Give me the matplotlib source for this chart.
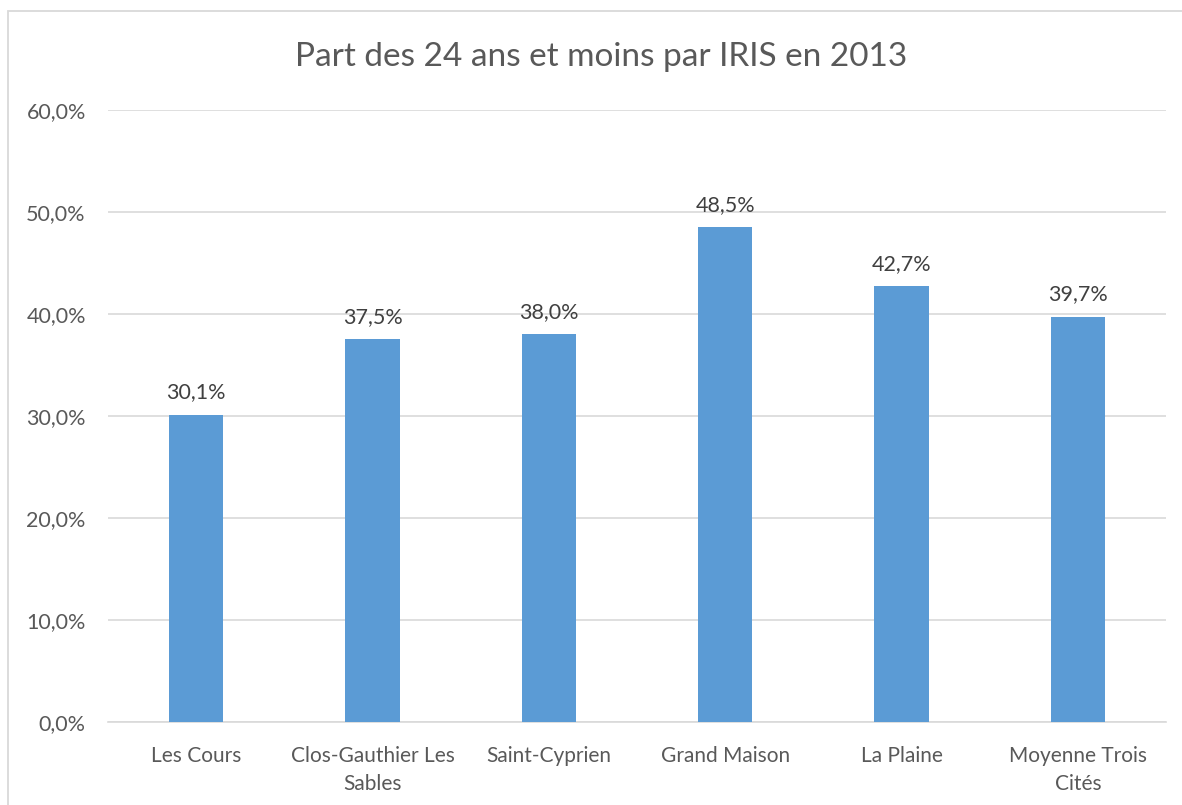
import matplotlib
matplotlib.use("Agg")
import matplotlib.pyplot as plt
from matplotlib.patches import Rectangle
from matplotlib.ticker import FuncFormatter, MultipleLocator

categories = ["Les Cours", "Clos-Gauthier Les\nSables", "Saint-Cyprien",
              "Grand Maison", "La Plaine", "Moyenne Trois\nCités"]
values = [30.1, 37.5, 38.0, 48.5, 42.7, 39.7]
title = "Part des 24 ans et moins par IRIS en 2013"

plt.rcParams['font.family'] = ['Lato', 'DejaVu Sans']

W, H = 1182, 805
fig = plt.figure(figsize=(W / 100, H / 100), dpi=100)
fig.patch.set_facecolor('white')

# outer chart border
fig.add_artist(Rectangle((8 / W, -0.01), 1.2, 1 - 11 / H + 0.01, transform=fig.transFigure,
                         fill=False, edgecolor='#D9D9D9', linewidth=1.3))

left, right = 108 / W, 1166 / W
bottom, top = 1 - 722 / H, 1 - 110 / H
ax = fig.add_axes([left, bottom, right - left, top - bottom])

x = range(len(categories))
ax.bar(x, values, width=0.31, color='#5B9BD5', zorder=3)
ax.set_xlim(-0.5, len(categories) - 0.5)
ax.set_ylim(0, 60)
ax.yaxis.set_major_locator(MultipleLocator(10))
ax.yaxis.set_major_formatter(FuncFormatter(lambda v, p: f"{v:.1f}%".replace('.', ',')))
ax.grid(axis='y', color='#D9D9D9', linewidth=1.2, zorder=0)
for s in ['top', 'right', 'left']:
    ax.spines[s].set_visible(False)
ax.spines['bottom'].set_color('#D9D9D9')
ax.spines['bottom'].set_linewidth(1.2)
ax.set_xticks(list(x))
ax.set_xticklabels(categories, fontsize=15, color='#595959', linespacing=1.55)
ax.tick_params(axis='both', length=0, labelcolor='#595959')
ax.tick_params(axis='y', pad=16, labelsize=15.5)
ax.tick_params(axis='x', pad=17)

for xi, v in zip(x, values):
    ax.annotate(f"{v:.1f}%".replace('.', ','), (xi, v), xytext=(0, 9),
                textcoords='offset points', ha='center', va='bottom',
                fontsize=15.5, color='#404040')

fig.text(0.5 * (290 + 913) / W, 1 - 57 / H, title, ha='center', va='center',
         fontsize=24, color='#595959')

fig.savefig("out.png", dpi=100)
